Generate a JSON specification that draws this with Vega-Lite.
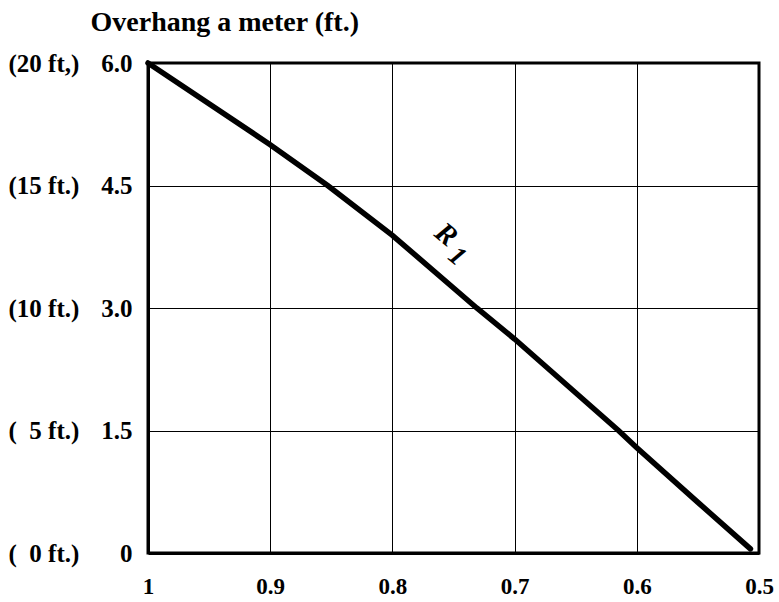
{
  "$schema": "https://vega.github.io/schema/vega-lite/v6.json",
  "width": 611,
  "height": 490,
  "autosize": "none",
  "padding": {"left": 148, "top": 63, "right": 20, "bottom": 49},
  "config": {
    "view": {"stroke": "black", "strokeWidth": 3},
    "font": "Liberation Serif"
  },
  "datasets": {
    "curve": [
      {"x": 1.0, "h": 6.0},
      {"x": 0.9, "h": 5.0},
      {"x": 0.853, "h": 4.5},
      {"x": 0.8, "h": 3.89},
      {"x": 0.731, "h": 3.0},
      {"x": 0.7, "h": 2.62},
      {"x": 0.615, "h": 1.5},
      {"x": 0.6, "h": 1.29},
      {"x": 0.55, "h": 0.62},
      {"x": 0.507, "h": 0.05}
    ],
    "labels": [
      {"x": 0.756, "h": 3.9, "t": "R", "s": 29},
      {"x": 0.747, "h": 3.63, "t": "1", "s": 27}
    ]
  },
  "layer": [
    {
      "data": {"name": "curve"},
      "mark": {"type": "line", "color": "black", "strokeWidth": 5.5, "strokeCap": "round"},
      "encoding": {
        "x": {
          "field": "x", "type": "quantitative",
          "scale": {"domain": [0.5, 1], "reverse": true, "nice": false, "zero": false},
          "axis": {
            "values": [0.5, 0.6, 0.7, 0.8, 0.9, 1],
            "labelExpr": "datum.value == 1 ? '1' : format(datum.value, '.1f')",
            "title": null,
            "grid": true, "gridColor": "black", "gridWidth": 1, "gridOpacity": 1,
            "domain": true, "domainColor": "black", "domainWidth": 3,
            "ticks": false,
            "labelPadding": 22,
            "labelFont": "Liberation Serif", "labelFontWeight": "bold", "labelFontSize": 23,
            "labelColor": "black", "labelFlush": false
          }
        },
        "y": {
          "field": "h", "type": "quantitative",
          "scale": {"domain": [0, 6], "nice": false},
          "axis": {
            "values": [0, 1.5, 3, 4.5, 6],
            "labelExpr": "datum.value == 0 ? '0' : format(datum.value, '.1f')",
            "grid": true, "gridColor": "black", "gridWidth": 1, "gridOpacity": 1,
            "domain": true, "domainColor": "black", "domainWidth": 3,
            "ticks": false,
            "labelPadding": 16,
            "labelFont": "Liberation Serif", "labelFontWeight": "bold", "labelFontSize": 25,
            "labelColor": "black", "labelFlush": false,
            "title": "Overhang a meter (ft.)",
            "titleAngle": 0, "titleAlign": "left", "titleBaseline": "alphabetic",
            "titleX": -58, "titleY": -33,
            "titleFont": "Liberation Serif", "titleFontWeight": "bold", "titleFontSize": 28,
            "titleColor": "black"
          }
        }
      }
    },
    {
      "data": {"name": "curve"},
      "mark": {"type": "line", "strokeOpacity": 0},
      "encoding": {
        "x": {"field": "x", "type": "quantitative"},
        "y": {
          "field": "h", "type": "quantitative",
          "axis": {
            "orient": "left",
            "offset": 140,
            "values": [0, 1.5, 3, 4.5, 6],
            "labelExpr": "datum.value == 6 ? '(20 ft,)' : datum.value == 4.5 ? '(15 ft.)' : datum.value == 3 ? '(10 ft.)' : datum.value == 1.5 ? '(\u00a0\u00a05 ft.)' : '(\u00a0\u00a00 ft.)'",
            "labelAlign": "left",
            "labelPadding": 0,
            "ticks": false, "domain": false, "grid": false,
            "labelFont": "Liberation Serif", "labelFontWeight": "bold", "labelFontSize": 25,
            "labelColor": "black", "labelFlush": false,
            "title": null
          }
        }
      }
    },
    {
      "data": {"name": "labels"},
      "mark": {"type": "text", "font": "Liberation Serif", "fontWeight": "bold", "fontStyle": "italic", "angle": 40, "align": "center", "baseline": "middle", "color": "black"},
      "encoding": {
        "x": {"field": "x", "type": "quantitative"},
        "y": {"field": "h", "type": "quantitative", "axis": null},
        "text": {"field": "t"},
        "size": {"field": "s", "type": "quantitative", "scale": null}
      }
    }
  ],
  "resolve": {"axis": {"y": "independent"}}
}
